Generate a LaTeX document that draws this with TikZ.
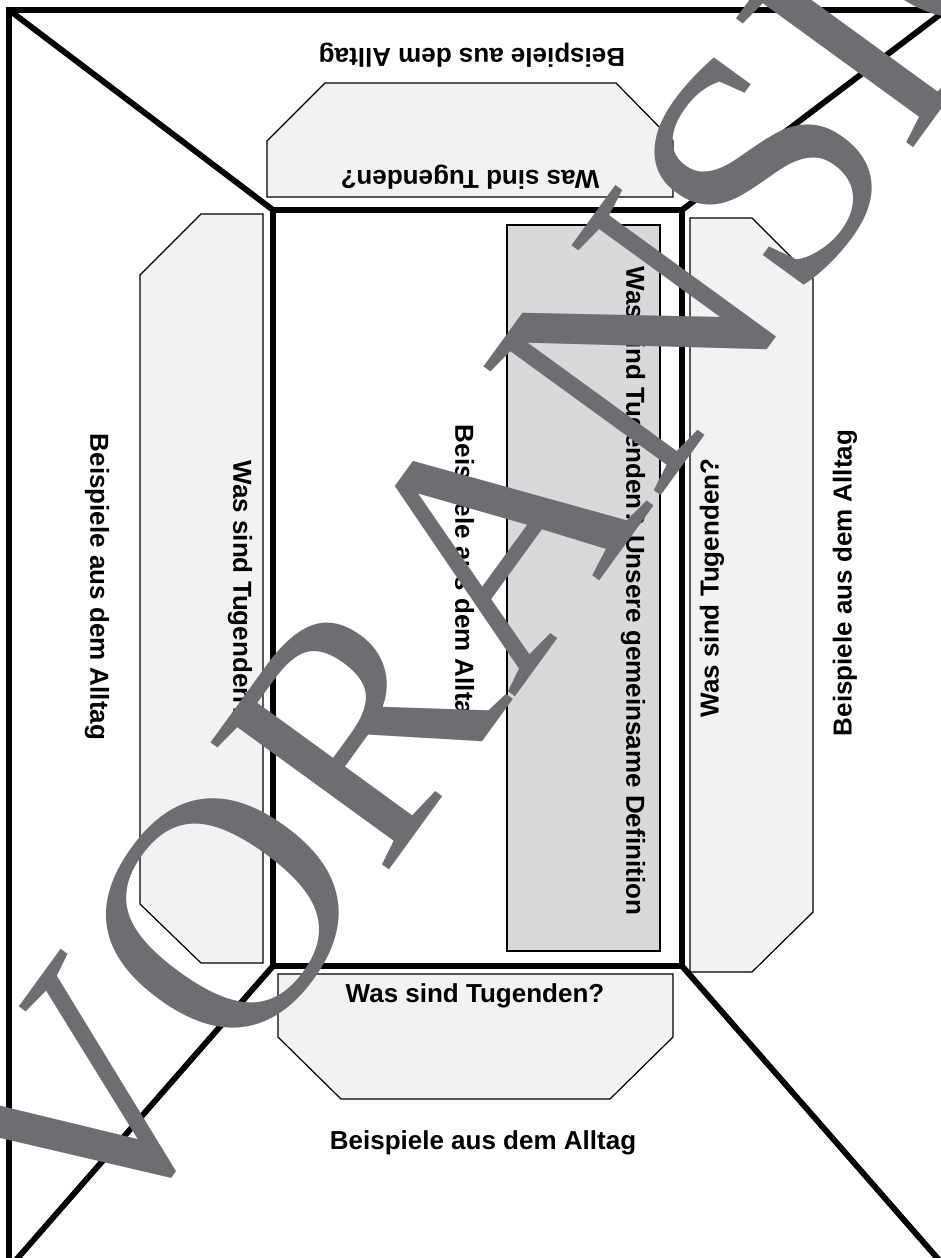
\documentclass[tikz,border=0pt]{standalone}
\usepackage{fontspec}
\setmainfont{Liberation Sans}
\newfontfamily\wmfont{Liberation Serif}
\usepackage{xcolor}
\usepackage{tikz}
\usetikzlibrary{positioning}
\definecolor{ink}{HTML}{000000}
\definecolor{paper}{HTML}{F2F2F2}
\definecolor{shade}{HTML}{D9D9D9}
\definecolor{wmark}{HTML}{6D6E71}
\tikzset{
  frame/.style={draw=ink, line width=4.4pt, line join=miter},
  flap/.style={draw=ink, fill=paper, line width=0.9pt},
  core/.style={draw=ink, fill=shade, line width=0.9pt},
  lbl/.style={font=\bfseries\fontsize{19.5}{22}\selectfont, inner sep=0pt},
  wm/.style={font=\wmfont\fontsize{251}{251}\selectfont, text=wmark, inner sep=0pt},
}
\begin{document}
\begin{tikzpicture}[x=0.75pt,y=-0.75pt]
  \useasboundingbox (0,0) rectangle (941,1258);
  \clip (0,0) rectangle (941,1258);
  % flaps round the base
  \draw[flap] (267,197) -- (267,141) -- (325,83) -- (616,83) -- (673,141) -- (673,197) -- cycle;
  \draw[flap] (278,974) -- (673,974) -- (673,1037) -- (610,1099) -- (341,1099) -- (278,1037) -- cycle;
  \draw[flap] (263,214) -- (263,963) -- (201,963) -- (140,904) -- (140,275) -- (201,214) -- cycle;
  \draw[flap] (690,218) -- (752,218) -- (813,279) -- (813,912) -- (752,972) -- (690,972) -- cycle;
  \draw[core] (507,225) rectangle (660,951);
  % frame and folds
  \coordinate (outNW) at (9,10);
  \coordinate (outNE) at (946,10);
  \coordinate (outSW) at (9,1268);
  \coordinate (outSE) at (946,1268);
  \coordinate (inNW) at (273,210);
  \coordinate (inNE) at (682,210);
  \coordinate (inSW) at (273,966);
  \coordinate (inSE) at (682,966);
  \draw[frame] (outNW) rectangle (outSE);
  \draw[frame] (inNW) rectangle (inSE);
  \foreach \c in {NW,NE,SW,SE}
    {\draw[frame] (out\c) -- (in\c);}
  % texts
  \node[lbl, rotate=180] (topEx) at (472,55) {Beispiele aus dem Alltag};
  \node[lbl, rotate=180] (topQ) at (470,177) {Was sind Tugenden?};
  \node[lbl] (botQ) at (475,996) {Was sind Tugenden?};
  \node[lbl] (botEx) at (483,1143) {Beispiele aus dem Alltag};
  \node[lbl, rotate=-90] (leftEx) at (97,587) {Beispiele aus dem Alltag};
  \node[lbl, rotate=-90] (leftQ) at (240,590) {Was sind Tugenden?};
  \node[lbl, rotate=-90] (midEx) at (462,578) {Beispiele aus dem Alltag};
  \node[lbl, rotate=-90] (midDef) at (633,591) {Was sind Tugenden? Unsere gemeinsame Definition};
  \node[lbl, rotate=90] (rightQ) at (712,588) {Was sind Tugenden?};
  \node[lbl, rotate=90] (rightEx) at (845,583) {Beispiele aus dem Alltag};
  % watermark
  \node[wm, rotate=54, anchor=base west] (stamp) at (98,1271) {VORANSICHT};
\end{tikzpicture}
\end{document}
